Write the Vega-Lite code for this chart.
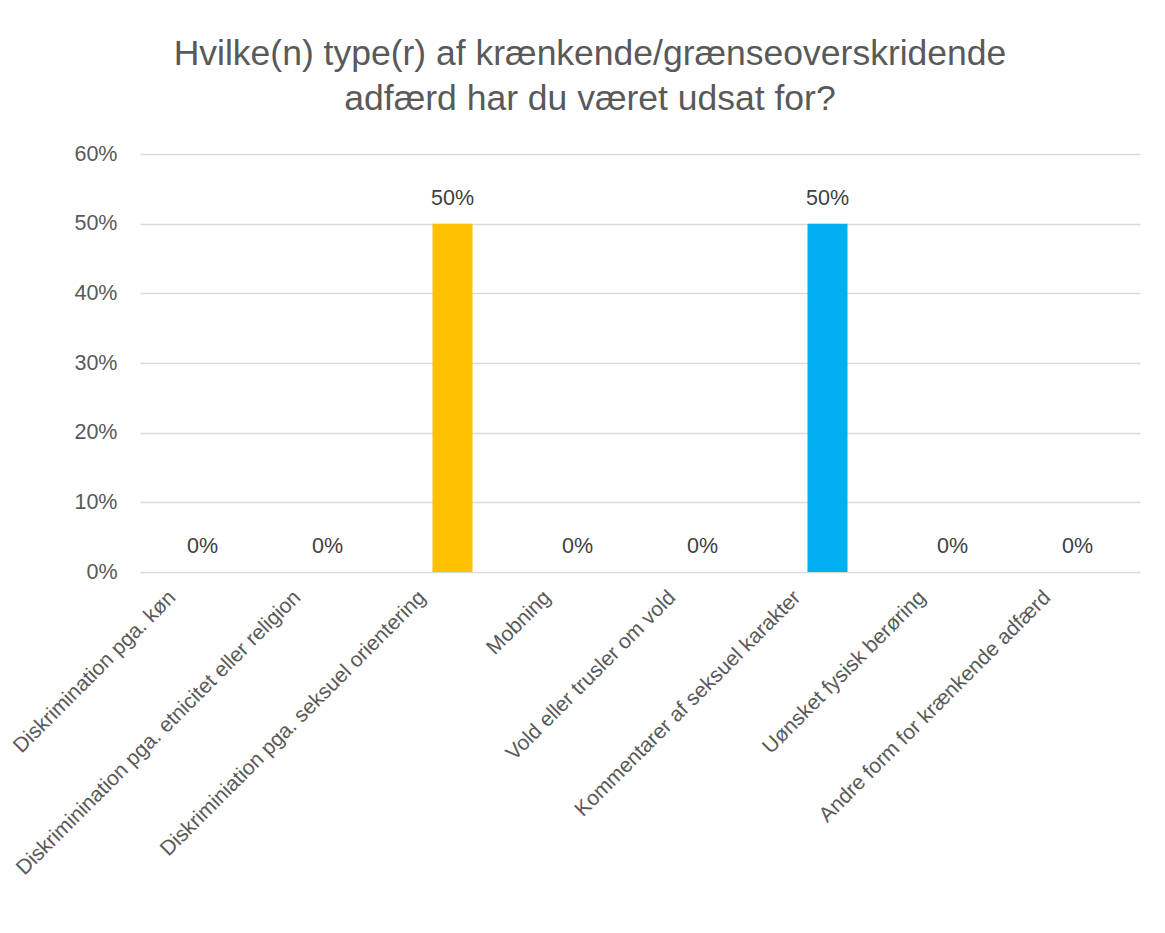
{
  "$schema": "https://vega.github.io/schema/vega-lite/v6.json",
  "autosize": "none",
  "width": 1000,
  "height": 418,
  "padding": {"left": 140, "top": 154, "right": 25, "bottom": 361},
  "background": "white",
  "title": {
    "text": ["Hvilke(n) type(r) af krænkende/grænseoverskridende", "adfærd har du været udsat for?"],
    "font": "Liberation Sans",
    "fontSize": 35.5,
    "fontWeight": "normal",
    "color": "#595959",
    "lineHeight": 45,
    "anchor": "middle",
    "frame": "group",
    "dx": -50,
    "offset": 26
  },
  "config": {
    "view": {"stroke": null},
    "font": "Liberation Sans"
  },
  "data": {
    "values": [
      {"kategori": "Diskrimination pga. køn", "andel": 0},
      {"kategori": "Diskriminination pga. etnicitet eller religion", "andel": 0},
      {"kategori": "Diskriminiation pga. seksuel orientering", "andel": 0.5},
      {"kategori": "Mobning", "andel": 0},
      {"kategori": "Vold eller trusler om vold", "andel": 0},
      {"kategori": "Kommentarer af seksuel karakter", "andel": 0.5},
      {"kategori": "Uønsket fysisk berøring", "andel": 0},
      {"kategori": "Andre form for krænkende adfærd", "andel": 0}
    ]
  },
  "encoding": {
    "x": {
      "field": "kategori",
      "type": "nominal",
      "sort": null,
      "title": null,
      "scale": {"paddingInner": 0.68, "paddingOuter": 0.34},
      "axis": {
        "labelAngle": -45,
        "labelAlign": "right",
        "labelBaseline": "middle",
        "labelFontSize": 21,
        "labelColor": "#595959",
        "labelFont": "Liberation Sans",
        "labelPadding": 22,
        "labelOffset": -30,
        "labelLimit": 600,
        "labelOverlap": false,
        "ticks": false,
        "domain": false
      }
    },
    "y": {
      "field": "andel",
      "type": "quantitative",
      "title": null,
      "scale": {"domain": [0, 0.6]},
      "axis": {
        "format": ".0%",
        "values": [0, 0.1, 0.2, 0.3, 0.4, 0.5, 0.6],
        "labelFontSize": 21.5,
        "labelColor": "#595959",
        "labelFont": "Liberation Sans",
        "labelPadding": 23,
        "labelOverlap": false,
        "ticks": false,
        "domain": false,
        "grid": true,
        "gridColor": "#d9d9d9",
        "gridWidth": 1.5
      }
    }
  },
  "layer": [
    {
      "mark": {"type": "bar"},
      "encoding": {
        "color": {
          "field": "kategori",
          "type": "nominal",
          "legend": null,
          "scale": {
            "domain": [
              "Diskrimination pga. køn",
              "Diskriminination pga. etnicitet eller religion",
              "Diskriminiation pga. seksuel orientering",
              "Mobning",
              "Vold eller trusler om vold",
              "Kommentarer af seksuel karakter",
              "Uønsket fysisk berøring",
              "Andre form for krænkende adfærd"
            ],
            "range": ["#156082", "#E97132", "#FFC000", "#0F9ED5", "#A02B93", "#00B0F0", "#4EA72E", "#196B24"]
          }
        }
      }
    },
    {
      "mark": {
        "type": "text",
        "baseline": "alphabetic",
        "dy": -19,
        "fontSize": 21.5,
        "color": "#404040",
        "font": "Liberation Sans"
      },
      "encoding": {
        "text": {"field": "andel", "type": "quantitative", "format": ".0%"}
      }
    }
  ]
}
